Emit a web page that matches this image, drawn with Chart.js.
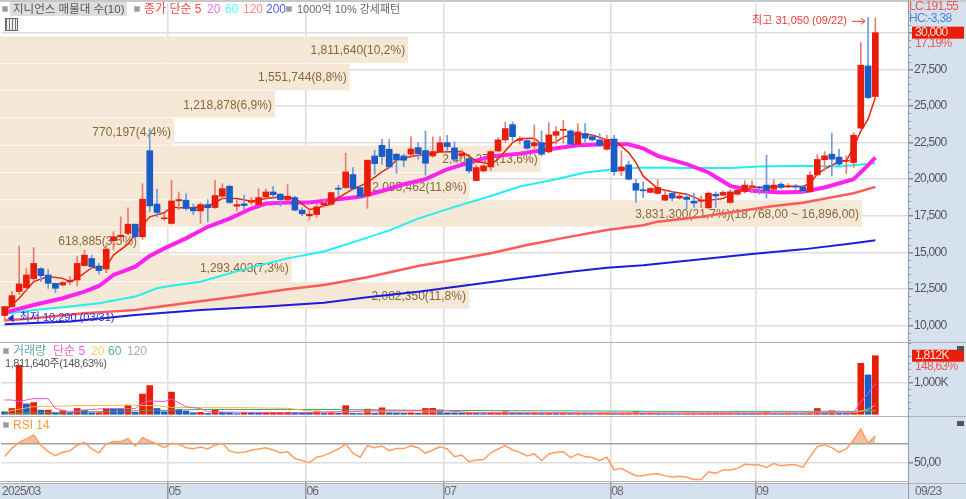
<!DOCTYPE html>
<html lang="ko">
<head>
<meta charset="utf-8">
<title>지니언스 매물대</title>
<script src="https://cdn.jsdelivr.net/npm/chart.js@4"></script>
<style>
html, body { margin: 0; padding: 0; background: #fff; overflow: hidden; }
#wrap { position: relative; width: 966px; height: 499px; }
#chart { position: absolute; left: 0; top: 0; }
.t { position: absolute; white-space: nowrap; font: 12px "Liberation Sans", "Noto Sans CJK KR", sans-serif; line-height: 14px; }
.sq { position: absolute; width: 4px; height: 4px; background: #999; border: 1px solid #bbb; }
#tbl { position: absolute; left: 5px; top: 18px; width: 11px; height: 11px; border: 1px solid #666; background: repeating-linear-gradient(90deg, #777 0 1px, #eee 1px 3px); }
</style>
</head>
<body>
<div id="wrap">
    <canvas id="chart" width="966" height="499"></canvas>

    <span class="sq" style="left:2px;top:6px"></span>
    <span class="t" style="left:10px;top:2px;width:117px;background:#ddd;color:#555;padding-left:3px;box-sizing:border-box;font-size:11.5px">지니언스 매물대 수(10)</span>
    <span class="sq" style="left:134px;top:6px"></span>
    <span class="t" style="left:144px;top:2px;color:#f44">종가 단순 5</span>
    <span class="t" style="left:207px;top:2px;color:#f6f">20</span>
    <span class="t" style="left:225px;top:2px;color:#5ff">60</span>
    <span class="t" style="left:243px;top:2px;color:#f88">120</span>
    <span class="t" style="left:266px;top:2px;color:#55f">200</span>
    <span class="sq" style="left:286px;top:6px"></span>
    <span class="t" style="left:297px;top:2px;color:#666;font-size:11px">1000억 10% 강세패턴</span>
    <div id="tbl"></div>

    <span class="sq" style="left:3px;top:348px"></span>
    <span class="t" style="left:13px;top:344px;color:#6aa">거래량</span>
    <span class="t" style="left:53px;top:344px;color:#e6c">단순 5</span>
    <span class="t" style="left:91px;top:344px;color:#fc6">20</span>
    <span class="t" style="left:108px;top:344px;color:#5b7">60</span>
    <span class="t" style="left:127px;top:344px;color:#aaa">120</span>
    <span class="t" style="left:5px;top:356px;color:#555;font-size:11px;letter-spacing:-0.4px">1,811,640주(148,63%)</span>

    <span class="sq" style="left:3px;top:422px"></span>
    <span class="t" style="left:13px;top:418px;color:#f93">RSI 14</span>
</div>

<script>
// trading days shown on the x axis
const tradingDays = [
    '03/31',
    '04/01','04/02','04/03','04/04','04/07','04/08','04/09','04/10','04/11','04/14','04/15',
    '04/16','04/17','04/18','04/21','04/22','04/23','04/24','04/25','04/28','04/29','04/30',
    '05/02','05/07','05/08','05/09','05/12','05/13','05/14','05/15','05/16','05/19','05/20',
    '05/21','05/22','05/23','05/26','05/27','05/28','05/29','05/30',
    '06/02','06/04','06/05','06/09','06/10','06/11','06/12','06/13','06/16','06/17','06/18',
    '06/19','06/20','06/23','06/24','06/25','06/26','06/27','06/30',
    '07/01','07/02','07/03','07/04','07/07','07/08','07/09','07/10','07/11','07/14','07/15',
    '07/16','07/17','07/18','07/21','07/22','07/23','07/24','07/25','07/28','07/29','07/30','07/31',
    '08/01','08/04','08/05','08/06','08/07','08/08','08/11','08/12','08/13','08/14','08/18',
    '08/19','08/20','08/21','08/22','08/25','08/26','08/27','08/28','08/29',
    '09/01','09/02','09/03','09/04','09/05','09/08','09/09','09/10','09/11','09/12','09/15',
    '09/16','09/17','09/18','09/19','09/22','09/23'
];
const emptySlots = ['', '', '', ''];

const opens = [
    10680,11290,12320,12590,13200,13880,13450,12880,12770,12970,
    13110,14090,14580,14060,13860,15790,16060,16290,16920,16060,
    21940,18290,17290,16970,18510,18560,18060,17830,18260,18060,
    18830,19510,18150,18310,18420,18260,18780,19120,18970,18600,
    18740,17880,17490,17580,18220,18280,19380,19420,20310,19420,
    18850,21580,22310,22040,21700,21580,21700,22150,21950,21580,
    21860,22490,22130,21600,21400,19900,20560,20830,21920,22680,
    23720,22650,22630,22270,22490,21860,22990,23330,23290,22380,
    23110,22900,22680,22040,22740,20560,20970,19700,19270,19090,
    19020,18560,19020,18700,18770,18490,18490,18040,18970,18900,
    18400,18970,19150,19470,19450,19590,19310,19650,19470,19520,
    19470,19130,20290,21320,21700,21500,21220,21130,23480,27730,
    25640
];
const closes = [
    11290,12040,12840,13450,14240,13400,12880,12540,12930,13090,
    14240,14810,14020,13750,15220,16060,16170,16920,16060,18630,
    18170,17720,17350,18510,18600,17990,17830,18260,18040,18880,
    19350,18400,18260,18190,18510,18740,19120,18940,18600,18830,
    17880,17630,17600,18100,18350,19080,19310,20490,19350,18810,
    21290,21060,21540,20830,21310,21290,22060,21740,21080,21880,
    22490,22220,21360,21750,20560,20790,20900,21880,22680,23450,
    22900,22740,22110,22490,21700,23020,23240,23380,22380,23220,
    22790,22680,22310,22680,20510,20830,19990,19240,19200,19360,
    19430,18900,18700,18840,18610,18360,18540,19040,18840,19090,
    19130,19250,19590,19540,19400,19220,19590,19430,19540,19470,
    19200,20270,21340,21590,21360,21020,21290,23000,27780,25570,
    30000
];
const highs = [
    11300,12320,15420,13880,15330,13950,13840,12900,13000,13340,
    14740,15150,14800,14240,15490,16400,17420,18040,16930,19690,
    23440,19310,17650,19920,19120,19010,18290,18380,18600,19920,
    19690,19580,18600,18900,18740,19350,19310,19510,19010,19620,
    18830,18060,17880,18330,18580,19100,19580,21770,20790,19500,
    21300,21970,22720,22720,21750,21700,22900,22490,23290,22880,
    22900,22990,22540,22000,21450,20950,21000,21930,22830,23900,
    23900,22900,22680,23680,23290,23860,23590,24020,23360,23790,
    23790,23020,23110,22990,22990,21920,21240,19990,19810,19420,
    19950,19200,19130,19020,19010,19020,18860,19130,19130,19200,
    19270,19310,19880,19880,19500,21630,19950,19770,19700,19650,
    19500,20500,21680,21880,23140,22040,21590,23180,29320,31050,
    31000
];
const lows = [
    10290,11180,12130,12320,13100,13000,12540,12250,12720,12810,
    12700,14060,13900,13520,13610,15150,15770,16170,15950,15880,
    17760,17420,17200,16920,17920,17880,17580,16970,17080,17990,
    18670,18330,17830,17920,18260,18200,18600,18740,18150,18510,
    17830,17490,17240,17380,18060,18220,18810,19350,19310,18670,
    18010,20330,21010,20790,20400,20830,21580,21360,20260,21500,
    21810,21920,21130,21400,20400,19880,20490,20560,21860,22500,
    22600,22380,22040,22110,21580,21810,22380,22450,22270,22330,
    22380,22600,22220,21970,20260,20240,19940,18400,18740,19040,
    18970,18520,18520,18630,17950,18060,18060,17950,18060,18860,
    18360,18900,19040,19090,18970,18700,19270,19310,19400,19310,
    19040,19090,20270,20570,20220,20910,20380,20790,23450,25500,
    25600
];

// price averages, read at the listed trading-day positions
const ma5At  = [0,2,4,6,8,9,10,12,14,15,17,18,19,20,22,23,24,26,28,30,32,34,36,38,40,42,43,44,45,46,48,50,52,53,54,56,58,60,63,65,67,68,70,71,73,74,75,76,77,79,81,83,84,86,87,88,90,92,94,96,97,99,101,103,105,107,110,111,112,113,115,116,117,118,119,120];
const ma5    = [10950,11860,12995,13340,13220,13000,13220,13950,14020,14810,15560,16240,16850,17420,17700,18100,18040,18060,18150,18670,18670,18490,18670,18780,18670,17920,17990,18170,18280,18740,19310,19760,20500,20790,21310,21540,21700,21855,21880,21240,21010,21355,22490,22770,22790,22380,22420,22540,22880,23100,23015,22680,22680,21810,21130,20200,19360,19130,18970,18560,18560,18675,19130,19425,19425,19495,19495,19700,20340,20680,21200,21250,22160,23290,24090,25570];
const ma20At = [0,4,8,11,13,15,18,20,22,25,28,31,34,36,39,42,46,49,52,55,58,61,64,67,71,75,79,83,86,88,90,94,97,100,103,107,110,113,117,119,120];
const ma20   = [10880,11400,11860,12315,12700,13450,14020,14750,15265,15950,16740,17300,17990,18330,18400,18400,18625,18800,19190,19650,20000,20670,21130,21540,21740,22040,22310,22380,22380,22100,21590,21020,20450,19540,19200,19085,19130,19425,20000,20950,21470];
const ma60At = [0,4,8,13,18,21,23,27,31,34,39,44,50,53,57,62,67,71,76,80,84,88,95,100,104,110,115,120];
const ma60   = [10790,11066,11250,11520,11975,12540,12720,12995,13560,13970,14585,15050,16000,16500,17300,18100,18850,19490,19990,20445,20670,20790,20750,20750,20860,20905,20860,21090];
const ma120At = [0,4,11,18,23,32,39,44,50,57,61,67,72,78,83,88,90,96,106,110,117,120];
const ma120   = [10340,10500,10840,11066,11400,11975,12473,12770,13300,14065,14406,14930,15500,16070,16524,16850,17093,17434,18163,18390,19030,19470];
const ma200At = [0,9,18,27,36,44,50,57,64,71,78,83,88,95,103,110,117,120];
const ma200   = [10090,10270,10725,11066,11290,11560,11925,12310,12770,13222,13677,13950,14120,14474,14884,15200,15613,15818];

// volume in thousands of shares
const volumes = [
    100,200,1520,340,380,150,150,70,130,70,
    200,150,70,70,200,190,180,300,80,640,
    900,200,100,700,170,120,70,80,50,170,
    80,75,40,70,65,60,70,75,80,85,
    70,65,60,120,50,70,50,285,50,45,
    180,50,220,70,65,60,70,50,200,205,
    150,70,65,60,65,50,45,55,60,100,
    60,55,50,60,50,60,50,60,50,60,
    50,45,55,60,50,55,60,110,50,60,
    50,45,40,30,40,45,50,55,60,65,
    70,60,55,50,60,100,50,40,50,45,
    40,60,200,60,130,60,50,90,1580,1225,
    1812
];
const volMa5At  = [0,1,2,3,4,6,7,8,9,11,14,18,19,20,22,23,25,26,27,28,30,40,47,50,54,58,60,64,84,100,110,113,116,117,118,119,120];
const volMa5    = [460,460,410,460,500,500,200,150,100,150,200,200,357,430,410,490,255,225,200,100,90,70,100,130,130,140,150,70,55,55,55,90,90,70,400,660,950];
const volMa20At = [0,4,10,17,21,23,27,33,39,43,61,84,110,117,118,119,120];
const volMa20   = [100,255,285,300,285,235,225,225,205,100,90,70,65,70,120,180,300];
const volMa60At = [0,10,19,27,39,44,61,84,100,117,120];
const volMa60   = [50,90,130,170,170,170,140,120,100,90,150];
const volMa120At = [100,117,120];
const volMa120   = [115,115,130];

const rsi = [
    56,64.7,71,74.6,78.8,68,61.2,57,60.5,62,
    68,71,64,60,69.3,71.8,71.8,75,67.2,76,
    72.5,69.3,65.4,70,69.3,65.4,64.4,66,64,68,
    70,62,60,60.5,62.6,64,65.4,63,60,61,
    54,51.8,49.6,55.3,57,60.5,64,69.3,59.5,55.3,
    67.5,65.4,67.2,62.3,64.4,64.4,67.5,65.4,59.5,63,
    66.5,64,56,57.7,50.7,52.5,53,60,64,67.5,
    63,60.5,56.7,58.8,51.8,58.8,60.5,61.2,55,58.8,
    56,55,51.8,55.3,42,43.7,39.5,36,36,37.4,
    38,36,34.6,35.3,34.2,32,32,40,38.4,42,
    42,43.7,47.9,47.5,47.2,44.7,48.6,46.5,47.5,47.5,
    44.7,56,66.5,68.3,65.4,60.5,64,73.5,85,70,
    78
];

// volume-at-price bands, bottom to top
const bandLow    = [11150,13015,14880,16745,18610,20475,22340,24205,26070,27935];
const bandHigh   = [12960,14825,16690,18555,20420,22285,24150,26015,27880,29745];
const bandVolume = [2082350,1293403,618885,3831300,2085462,2401272,770197,1218878,1551744,1811640];
const bandLabel  = [
    '2,082,350(11,8%)','1,293,403(7,3%)','618,885(3,5%)',
    '3,831,300(21,7%)(18,768,00 ~ 16,896,00)',
    '2,085,462(11,8%)','2,401,272(13,6%)','770,197(4,4%)',
    '1,218,878(6,9%)','1,551,744(8,8%)','1,811,640(10,2%)'
];

// axis ticks
const priceTicks = [9000,9500,10000,10500,11000,11500,12000,12500,13000,13500,14000,14500,15000,15500,16000,16500,17000,17500,18000,18500,19000,19500,20000,20500,21000,21500,22000,22500,23000,23500,24000,24500,25000,25500,26000,26500,27000,27500,28000,28500,29000,29500,30000,30500,31000,31500];
const volTicks   = [0,200,400,600,800,1000,1200,1400,1600,1800,2000,2200];
const rsiTicks   = [50,70];

const monthStarts = [23, 42, 61, 84, 104];
const monthLabels = ['05', '06', '07', '08', '09'];

const RED  = '#ea1c0a';
const BLUE = '#1a5cc8';
const AXIS_FONT = '12px "Liberation Sans", sans-serif';
const TIGHT = '-0.7px';

const fmt = v => v.toLocaleString('en-US');
const series = (at, vals) => at.map((d, k) => ({ x: tradingDays[d], y: vals[k] }));
const candleColor = i => closes[i] >= opens[i] ? RED : BLUE;
const wickColor = i => closes[i] >= opens[i] ? '#ee7a6e' : '#6f9bdc';
const volColor = i => (i === 0 || volumes[i] < volumes[i - 1]) ? BLUE : RED;
const setTicks = list => s => { s.ticks = list.map(value => ({ value })); };
const fitPane = s => { s.width = 58; s.paddingTop = 0; s.paddingBottom = 0; };

function maLine(label, at, vals, color, width, order, axis = 'yPrice') {
    return {
        type: 'line', label, data: series(at, vals), yAxisID: axis,
        borderColor: color, borderWidth: width, pointRadius: 0, tension: 0, order
    };
}

function text(ctx, str, x, y, color, font, align = 'left', spacing = TIGHT) {
    ctx.font = font;
    ctx.fillStyle = color;
    ctx.textAlign = align;
    ctx.textBaseline = 'middle';
    ctx.letterSpacing = spacing;
    ctx.fillText(str, x, y);
}

// panel backgrounds, drawn first
const panelPlugin = {
    id: 'panels',
    beforeDraw(chart) {
        const { ctx } = chart;
        ctx.letterSpacing = TIGHT;
        ctx.save();
        ctx.fillStyle = '#d6e1f0';
        ctx.fillRect(908, 0, 58, 499);
        ctx.fillRect(0, 484, 966, 15);
        ctx.fillStyle = '#c8c8c8';
        ctx.fillRect(0, 0, 966, 2);
        ctx.restore();
    },
    afterDraw(chart) {
        const { ctx } = chart;
        const x = chart.scales.x;
        ctx.save();
        ctx.fillStyle = '#b0b0b0';
        ctx.fillRect(0, 342, 966, 1);
        ctx.fillRect(0, 416, 966, 1);
        ctx.fillRect(0, 481, 908, 1);
        ctx.fillRect(0, 483, 966, 1);
        ctx.fillStyle = '#999';
        ctx.fillRect(908, 0, 1, 499);

        // short marks between the labelled ticks
        for (const [id, major] of [['yPrice', 2500], ['yVol', 1000]]) {
            const s = chart.scales[id];
            s.ticks.forEach(t => {
                if (t.value % major !== 0) {
                    ctx.fillRect(909, Math.round(s.getPixelForValue(t.value)), 2, 1);
                }
            });
        }

        // time axis labels
        text(ctx, '2025/03', 2, 492, '#666', AXIS_FONT);
        monthStarts.forEach((d, k) => {
            text(ctx, monthLabels[k], x.getPixelForValue(tradingDays[d]) - 3, 492, '#666', AXIS_FONT);
        });
        text(ctx, '09/23', 915, 492, '#666', AXIS_FONT);

        // right panel readouts
        text(ctx, 'LC:191,55', 909, 7, '#e85a50', AXIS_FONT);
        text(ctx, 'HC:-3,38', 909, 19, '#4a86d8', AXIS_FONT);
        const yP = chart.scales.yPrice.getPixelForValue(closes[closes.length - 1]);
        ctx.fillStyle = RED;
        ctx.fillRect(912, yP - 6, 52, 12);
        text(ctx, fmt(closes[closes.length - 1]), 915, yP, '#ffe6d8', AXIS_FONT);
        text(ctx, '17,19%', 915, yP + 11, '#e85a50', AXIS_FONT);
        const yV = chart.scales.yVol.getPixelForValue(volumes[volumes.length - 1]);
        ctx.fillStyle = RED;
        ctx.fillRect(912, yV - 6, 52, 12);
        text(ctx, '1,812K', 915, yV, '#ffe6d8', AXIS_FONT);
        text(ctx, '148,63%', 915, yV + 11, '#e85a50', AXIS_FONT);

        ctx.fillStyle = '#555';
        ctx.fillRect(957, 346, 7, 5);
        ctx.fillRect(957, 421, 7, 5);
        ctx.restore();
    }
};

// beige volume-at-price bands with their labels, under the candles
const bandPlugin = {
    id: 'bands',
    beforeDatasetsDraw(chart) {
        const { ctx } = chart;
        const yS = chart.scales.yPrice;
        const vS = chart.scales.xBand;
        ctx.save();
        bandVolume.forEach((v, k) => {
            const top = yS.getPixelForValue(bandHigh[k]);
            const bottom = yS.getPixelForValue(bandLow[k]);
            const right = vS.getPixelForValue(v);
            ctx.fillStyle = '#f5e8d7';
            ctx.fillRect(0, top, right, bottom - top);
            text(ctx, bandLabel[k], right - 3, (top + bottom) / 2 + 1, '#86683a', '12px "Liberation Sans", sans-serif', 'right', '0px');
        });
        ctx.restore();
    },
    afterDatasetsDraw(chart) {
        const { ctx } = chart;
        const x = chart.scales.x;
        const yS = chart.scales.yPrice;
        const font = '11px "Liberation Sans", "Noto Sans CJK KR", sans-serif';
        ctx.save();

        // highest point
        const hi = Math.max(...highs);
        const hiX = x.getPixelForValue(tradingDays[highs.indexOf(hi)]);
        const hiY = yS.getPixelForValue(hi) + 4;
        text(ctx, '최고 ' + fmt(hi) + ' (' + tradingDays[highs.indexOf(hi)] + ')', hiX - 116, hiY, '#e83a30', font, 'left', '0px');
        ctx.strokeStyle = '#e83a30';
        ctx.lineWidth = 1;
        ctx.beginPath();
        ctx.moveTo(hiX - 16, hiY); ctx.lineTo(hiX - 3, hiY);
        ctx.moveTo(hiX - 7, hiY - 3); ctx.lineTo(hiX - 3, hiY); ctx.lineTo(hiX - 7, hiY + 3);
        ctx.stroke();

        // lowest point
        const lo = Math.min(...lows);
        const loX = x.getPixelForValue(tradingDays[lows.indexOf(lo)]);
        const loY = yS.getPixelForValue(lo) - 3;
        text(ctx, '최저 ' + fmt(lo) + ' (' + tradingDays[lows.indexOf(lo)] + ')', loX + 15, loY, '#2a2ad8', font, 'left', '0px');
        ctx.fillStyle = '#2a2ad8';
        ctx.beginPath();
        ctx.moveTo(loX + 3, loY); ctx.lineTo(loX + 9, loY - 4); ctx.lineTo(loX + 9, loY + 4);
        ctx.closePath();
        ctx.fill();
        ctx.restore();
    }
};

const barBase = { type: 'bar', grouped: false, borderWidth: 0 };

new Chart(document.getElementById('chart'), {
    data: {
        labels: tradingDays.concat(emptySlots),
        datasets: [
            {
                ...barBase, label: '시가-종가', yAxisID: 'yPrice', order: 1,
                data: opens.map((o, i) => [o, closes[i]]),
                barThickness: 6, minBarLength: 1,
                backgroundColor: c => candleColor(c.dataIndex)
            },
            {
                ...barBase, label: '고가-저가', yAxisID: 'yPrice', order: 2,
                data: lows.map((l, i) => [l, highs[i]]),
                barThickness: 1,
                backgroundColor: c => wickColor(c.dataIndex)
            },
            maLine('단순 5', ma5At, ma5, '#ee2211', 1.5, 3),
            maLine('단순 20', ma20At, ma20, '#ff22ee', 4, 4),
            maLine('단순 60', ma60At, ma60, '#22f0f0', 2, 5),
            maLine('단순 120', ma120At, ma120, '#ff5a5a', 2.5, 6),
            maLine('단순 200', ma200At, ma200, '#1c1cdc', 2, 7),
            {
                ...barBase, label: '거래량', yAxisID: 'yVol', order: 9,
                data: volumes, barThickness: 6,
                backgroundColor: c => volColor(c.dataIndex)
            },
            maLine('거래량 5', volMa5At, volMa5, '#ee55cc', 1, 8, 'yVol'),
            maLine('거래량 20', volMa20At, volMa20, '#f5b83d', 1, 8, 'yVol'),
            maLine('거래량 60', volMa60At, volMa60, '#3fa85f', 1, 8, 'yVol'),
            maLine('거래량 120', volMa120At, volMa120, '#aaaaaa', 1, 8, 'yVol'),
            {
                type: 'line', label: 'RSI 14', yAxisID: 'yRsi', order: 8,
                data: rsi, borderColor: '#ff9d60', borderWidth: 1.5, pointRadius: 0, tension: 0,
                fill: { target: { value: 70 }, above: 'rgba(245,170,125,0.75)', below: 'rgba(0,0,0,0)' }
            }
        ]
    },
    options: {
        responsive: false,
        animation: false,
        devicePixelRatio: 1,
        layout: { padding: { left: 1, right: 0, top: 3, bottom: 0 } },
        plugins: { legend: { display: false }, tooltip: { enabled: false } },
        scales: {
            x: {
                type: 'category',
                offset: true,
                border: { display: false },
                ticks: { display: false, autoSkip: false },
                grid: {
                    offset: true, lineWidth: 1.5, drawTicks: true, tickLength: 17,
                    color: c => monthStarts.includes(c.index) ? '#dedede' : 'rgba(0,0,0,0)',
                    tickColor: c => monthStarts.includes(c.index) ? '#999' : 'rgba(0,0,0,0)'
                }
            },
            xBand: { type: 'linear', position: 'top', display: false, min: 0, max: 4036000 },
            yPrice: {
                position: 'right', stack: 'panes', stackWeight: 339,
                min: 8873, max: 32028, bounds: 'data',
                afterBuildTicks: setTicks(priceTicks),
                afterFit: fitPane,
                border: { display: false },
                ticks: {
                    autoSkip: false, padding: 1, color: '#555', font: { size: 12 },
                    callback: v => v % 2500 === 0 ? fmt(v) : ''
                },
                grid: {
                    lineWidth: 1.5, tickLength: 5,
                    color: c => c.tick.value % 2500 === 0 ? '#dedede' : 'rgba(0,0,0,0)',
                    tickColor: c => c.tick.value % 2500 === 0 ? '#888' : 'rgba(0,0,0,0)'
                }
            },
            yVol: {
                position: 'right', stack: 'panes', stackWeight: 74,
                min: -30, max: 2232, bounds: 'data',
                afterBuildTicks: setTicks(volTicks),
                afterFit: fitPane,
                border: { display: false },
                ticks: {
                    autoSkip: false, padding: 1, color: '#555', font: { size: 12 },
                    callback: v => v === 1000 ? '1,000K' : ''
                },
                grid: {
                    lineWidth: 1.5, tickLength: 5,
                    color: c => c.tick.value === 1000 ? '#dedede' : 'rgba(0,0,0,0)',
                    tickColor: c => c.tick.value === 1000 ? '#888' : 'rgba(0,0,0,0)'
                }
            },
            yRsi: {
                position: 'right', stack: 'panes', stackWeight: 66,
                min: 29.3, max: 98.7, bounds: 'data',
                afterBuildTicks: setTicks(rsiTicks),
                afterFit: fitPane,
                border: { display: false },
                ticks: {
                    autoSkip: false, padding: 1, color: '#555', font: { size: 12 },
                    callback: v => v === 50 ? '50,00' : ''
                },
                grid: {
                    lineWidth: 1.5, tickLength: 5,
                    color: c => c.tick.value === 70 ? '#a0a0a0' : '#dedede',
                    tickColor: c => c.tick.value === 50 ? '#888' : 'rgba(0,0,0,0)'
                }
            }
        }
    },
    plugins: [panelPlugin, bandPlugin]
});
</script>
</body>
</html>
